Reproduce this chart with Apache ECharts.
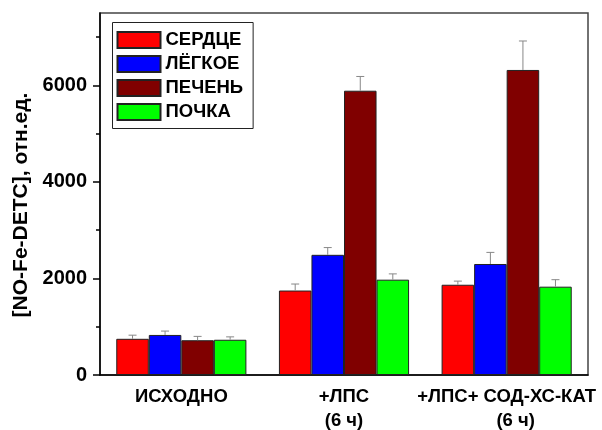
<!DOCTYPE html>
<html><head><meta charset="utf-8">
<script src="https://cdn.jsdelivr.net/npm/echarts@6/dist/echarts.min.js"></script>
<style>html,body{margin:0;padding:0;background:#fff}#c{width:602px;height:430px}</style>
</head><body><div id="c"></div>
<script>
var categories = ['ИСХОДНО', '+ЛПС\n(6 ч)', '+ЛПС+ СОД-ХС-КАТ\n(6 ч)'];
var seriesNames = ['СЕРДЦЕ', 'ЛЁГКОЕ', 'ПЕЧЕНЬ', 'ПОЧКА'];
var colors = ['#ff0000', '#0000ff', '#800000', '#00ff00'];
var heart = [750, 1750, 1870];
var heartErr = [75, 135, 75];
var lung = [830, 2490, 2300];
var lungErr = [80, 150, 240];
var liver = [720, 5890, 6320];
var liverErr = [80, 295, 600];
var kidney = [730, 1975, 1830];
var kidneyErr = [60, 120, 145];
var majorTicks = [0, 2000, 4000, 6000];
var minorTicks = [1000, 3000, 5000, 7000];
var yMax = 7500;

var values = [heart, lung, liver, kidney];
var errs = [heartErr, lungErr, liverErr, kidneyErr];
var FONT = 'Liberation Sans, Arial, sans-serif';
var barGapRatio = 0.2;

var series = [];
values.forEach(function (v, i) {
  series.push({
    name: seriesNames[i], type: 'bar', data: v, barGap: '0%', barCategoryGap: '20%',
    itemStyle: { color: colors[i], borderColor: '#222', borderWidth: 1 }, z: 2
  });
});
values.forEach(function (v, i) {
  var data = v.map(function (val, k) { return [k, val, val + errs[i][k]]; });
  series.push({
    type: 'custom', name: seriesNames[i] + '_err', data: data, z: 5, silent: true,
    encode: { x: 0, y: [1, 2] },
    renderItem: function (params, api) {
      var k = api.value(0);
      var band = api.size([1, 0])[0];
      var bw = band * (1 - barGapRatio) / 4;
      var off = (i - 1.5) * bw;
      var p0 = api.coord([k, api.value(1)]);
      var p1 = api.coord([k, api.value(2)]);
      var x = p0[0] + off;
      var cap = 4;
      var st = { stroke: '#888', lineWidth: 1, fill: null };
      return { type: 'group', children: [
        { type: 'line', shape: { x1: x, y1: p0[1], x2: x, y2: p1[1] }, style: st },
        { type: 'line', shape: { x1: x - cap, y1: p1[1], x2: x + cap, y2: p1[1] }, style: st }
      ]};
    }
  });
});

var chart = echarts.init(document.getElementById('c'), null, { renderer: 'canvas' });
chart.setOption({
  animation: false,
  backgroundColor: '#fff',
  grid: { left: 100, right: 14, top: 13, bottom: 55, show: true, borderColor: '#444', borderWidth: 1.5,
          containLabel: false, outerBoundsMode: 'none' },
  legend: {
    data: seriesNames.map(function (n) { return { name: n, icon: 'rect' }; }),
    orient: 'vertical', left: 112.5, top: 22.5,
    itemWidth: 43, itemHeight: 16, itemGap: 5,
    padding: [8, 10, 7, 4], borderColor: '#222', borderWidth: 1,
    textStyle: { fontFamily: FONT, fontWeight: 'bold', fontSize: 18.5, color: '#000' },
    selectedMode: false
  },
  xAxis: {
    type: 'category', data: categories,
    axisLine: { lineStyle: { color: '#000', width: 1.5 } },
    axisTick: { show: false },
    axisLabel: {
      interval: 0, margin: 10, color: '#000', fontFamily: FONT, fontWeight: 'bold', fontSize: 18.5, lineHeight: 24,
      formatter: function (val, idx) {
        if (idx === 2) { return '+ЛПС+ СОД-ХС-КАТ\n{b|(6 ч)}'; }
        return val;
      },
      rich: { b: { fontFamily: FONT, fontWeight: 'bold', fontSize: 18.5, color: '#000', lineHeight: 24, padding: [0, 0, 0, 18] } }
    },
    splitLine: { show: false }
  },
  yAxis: [{
    type: 'value', min: 0, max: yMax, position: 'left',
    name: '[NO-Fe-DETC], отн.ед.', nameLocation: 'middle', nameGap: 60,
    nameTextStyle: { fontFamily: FONT, fontWeight: 'bold', fontSize: 21, color: '#000', padding: [0, 22, 0, 0] },
    axisLine: { show: true, lineStyle: { color: '#000', width: 1.5 } },
    axisTick: { show: true, length: 7, customValues: majorTicks, lineStyle: { color: '#000', width: 1.5 } },
    axisLabel: { customValues: majorTicks, margin: 13, color: '#000', fontFamily: FONT, fontWeight: 'bold', fontSize: 20,
                 formatter: function (v) { return String(v); } },
    splitLine: { show: false }
  }, {
    type: 'value', min: 0, max: yMax, position: 'left', offset: 0,
    axisLine: { show: false },
    axisTick: { show: true, length: 4, customValues: minorTicks, lineStyle: { color: '#000', width: 1.5 } },
    axisLabel: { show: false },
    splitLine: { show: false }
  }],
  series: series
});
</script></body></html>
